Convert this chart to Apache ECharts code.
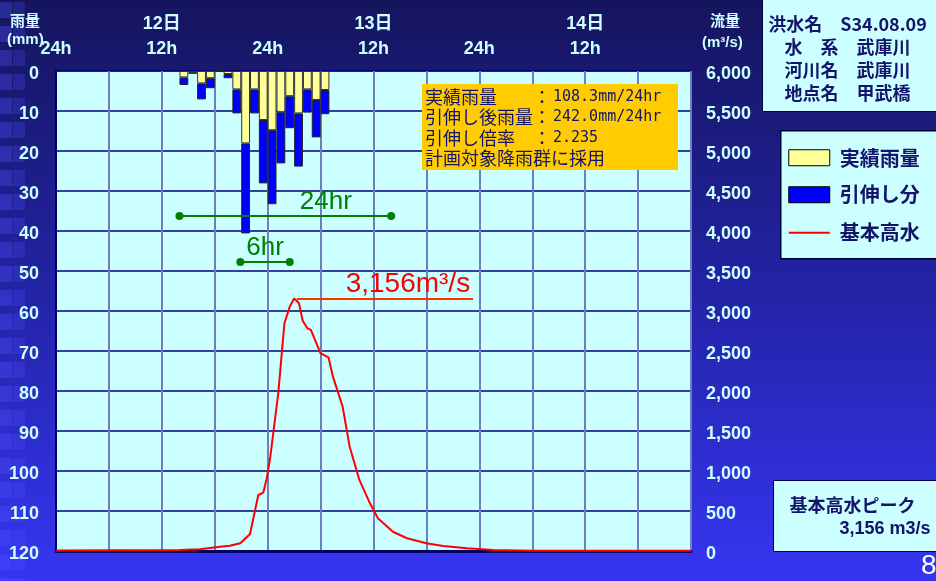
<!DOCTYPE html>
<html><head><meta charset="utf-8">
<script src="https://cdn.jsdelivr.net/npm/echarts@6/dist/echarts.min.js"></script>
<style>html,body{margin:0;padding:0;background:#1e1e88}#c{width:936px;height:581px}</style>
</head><body><div id="c"></div>
<script>
// ---- data ----
const totalHours = 72;                       // 12日 0h .. 14日 24h
const rainHours   = [14,15,16,17,18,19,20,21,22,23,24,25,26,27,28,29,30];
const rainActual  = [1.6,0.3,3.1,1.8,0,0.75,4.6,18.1,4.6,12.25,14.8,10.3,6.3,10.6,4.6,7.25,4.75];
const rainStretch = [1.9,0.4,4.0,2.5,0,1.05,6.0,22.5,6.0,15.85,18.5,12.8,8.0,13.3,5.8,9.35,6.05];
const flowHours  = [0,14.06,16.3,18.6,19.7,20.9,22.0,22.94,23.5,23.9,24.3,25.2,25.9,26.5,27.0,27.55,27.97,28.5,28.9,30.0,30.9,31.4,32.5,33.3,34.4,35.6,36.5,38.2,39.8,42.0,43.9,46.6,49.6,54.1,72];
const flowValues = [6,12,21,54,66,96,212,700,729,909,1179,1971,2846,3054,3156,3096,2879,2784,2763,2471,2421,2179,1804,1304,888,596,409,241,159,96,63,34,13,4,4];
const hourTicks  = [0,12,24,36,48,60];
const hourLabels = ['24h','12h','24h','12h','24h','12h'];
const dayTicks   = [12,36,60];
const dayLabels  = ['12日','13日','14日'];
const peakFlow = 3156;

// ---- build ----
const cats = Array.from({length: totalHours}, (_, i) => String(i));
const yellowData = cats.map(() => '-');
const blueData = cats.map(() => '-');
rainHours.forEach((h, i) => { yellowData[h] = rainActual[i]; blueData[h] = rainStretch[i]; });
const flowData = flowHours.map((h, i) => [h, flowValues[i]]);

const LC = '#ccffff';
const NAVY = '#14146a';
const FONT = '"Liberation Sans","Noto Sans CJK JP",sans-serif';
const JFONT = '"Noto Sans CJK JP","Liberation Sans",sans-serif';
const MONO = '"DejaVu Sans Mono","Liberation Mono",monospace';

const chart = echarts.init(document.getElementById('c'), null, {renderer: 'canvas'});

const leftDeco = [];
for (let y = 2; y < 581; y += 24) {
  leftDeco.push({type:'rect', shape:{x:0,y:y,width:12,height:16}, style:{fill:'rgba(80,80,255,0.35)'}, z:-5, silent:true});
  leftDeco.push({type:'rect', shape:{x:13,y:y,width:12,height:16}, style:{fill:'rgba(80,80,255,0.25)'}, z:-5, silent:true});
}
function box(left, top, children) {
  return {type:'group', left:left, top:top, z:100, children: children.map(c => Object.assign({z:100, silent:true}, c))};
}
const yLabelRich = {v: {color:LC, fontSize:18, fontWeight:'bold', fontFamily:FONT, padding:[7,0,0,0]}};

chart.setOption({
  animation: false,
  backgroundColor: {type:'linear', x:0, y:0, x2:0, y2:1, colorStops:[
    {offset:0, color:'#15155e'}, {offset:0.5, color:'#2323a6'}, {offset:1, color:'#3636f2'}]},
  textStyle: {fontFamily: FONT},
  grid: {left:56, right:245, top:71, bottom:30, show:true, backgroundColor:'#ccffff', borderColor:'#000066', borderWidth:1},
  xAxis: [
    {type:'category', data:cats, show:false, boundaryGap:true},
    {type:'value', min:0, max:totalHours, interval:6, position:'top',
      axisLine:{show:true, lineStyle:{color:'#000066', width:3}}, axisTick:{show:false},
      axisLabel:{margin:13, color:LC, fontSize:18, fontWeight:'bold', fontFamily:FONT,
        formatter: v => { const k = hourTicks.indexOf(v); return k >= 0 ? hourLabels[k] : ''; }},
      splitLine:{show:true, lineStyle:{color:'#6d7fc0', width:2}}},
    {type:'value', min:0, max:totalHours, interval:12, position:'top', offset:25,
      axisLine:{show:false}, axisTick:{show:false}, splitLine:{show:false},
      axisLabel:{margin:13, color:LC, fontSize:18, fontWeight:'bold', fontFamily:FONT,
        formatter: v => { const k = dayTicks.indexOf(v); return k >= 0 ? dayLabels[k] : ''; }}}
  ],
  yAxis: [
    {type:'value', inverse:true, min:0, max:120, interval:10,
      axisLine:{show:true, lineStyle:{color:'#000066', width:2}}, axisTick:{show:false},
      axisLabel:{margin:17, formatter: v => '{v|' + v + '}', rich: yLabelRich},
      splitLine:{show:true, lineStyle:{color:'#000080', width:1.5}}},
    {type:'value', min:0, max:6000, interval:500, position:'right',
      axisLine:{show:true, lineStyle:{color:'#000066', width:2}}, axisTick:{show:false},
      axisLabel:{margin:15, formatter: v => '{v|' + v.toLocaleString('en-US') + '}', rich: yLabelRich},
      splitLine:{show:false}}
  ],
  series: [
    {name:'実績雨量', type:'bar', xAxisIndex:0, yAxisIndex:0, stack:'rain', data:yellowData,
      barCategoryGap:'0%', itemStyle:{color:'#ffff99', borderColor:'#333', borderWidth:1}},
    {name:'引伸し分', type:'bar', xAxisIndex:0, yAxisIndex:0, stack:'rain', data:blueData,
      barCategoryGap:'0%', itemStyle:{color:'#0000ff', borderColor:'#222', borderWidth:1}},
    {name:'基本高水', type:'line', xAxisIndex:1, yAxisIndex:1, data:flowData, showSymbol:false,
      lineStyle:{color:'#ff0000', width:2}, z:5,
      markLine:{silent:true, symbol:['circle','circle'], symbolSize:8, label:{show:false},
        data:[
          [{coord:[27.3, peakFlow], symbol:'none', lineStyle:{color:'#ff3300', width:2, type:'solid'}}, {coord:[47.3, peakFlow], symbol:'none'}],
          [{coord:[14, 4187], lineStyle:{color:'#008000', width:2, type:'solid'}, itemStyle:{color:'#008000'}}, {coord:[38, 4187]}],
          [{coord:[20.9, 3612], lineStyle:{color:'#008000', width:2, type:'solid'}, itemStyle:{color:'#008000'}}, {coord:[26.5, 3612]}]
        ]},
      markPoint:{silent:true, symbol:'circle', symbolSize:0,
        data:[
          {coord:[30.6, 4362], label:{show:true, position:'inside', formatter:'24hr', color:'#008000', fontSize:26, fontFamily:FONT}},
          {coord:[23.7, 3787], label:{show:true, position:'inside', formatter:'6hr', color:'#008000', fontSize:26, fontFamily:FONT}},
          {coord:[39.9, 3337], label:{show:true, position:'inside', formatter:'3,156m³/s', color:'#ff0000', fontSize:28, fontFamily:FONT}}
        ]}}
  ],
  graphic: [
    ...leftDeco,
    {type:'text', left:10, top:13, z:10, style:{text:'雨量', fill:LC, font:'bold 15px '+JFONT}},
    {type:'text', left:7, top:32, z:10, style:{text:'(mm)', fill:LC, font:'bold 15px '+FONT}},
    {type:'text', left:710, top:13, z:10, style:{text:'流量', fill:LC, font:'bold 15px '+JFONT}},
    {type:'text', left:702, top:35, z:10, style:{text:'(m³/s)', fill:LC, font:'bold 15px '+FONT}},
    // info box
    box(422, 84, [
      {type:'rect', shape:{x:0,y:0,width:256,height:86}, style:{fill:'#ffcc00'}},
      {type:'text', x:3, y:13, style:{text:'実績雨量', fill:NAVY, font:'18px '+JFONT, verticalAlign:'middle'}},
      {type:'text', x:111, y:13, style:{text:'：', fill:NAVY, font:'18px '+JFONT, verticalAlign:'middle'}},
      {type:'text', x:131, y:13, style:{text:'108.3mm/24hr', fill:NAVY, font:'15px '+MONO, verticalAlign:'middle'}},
      {type:'text', x:3, y:33, style:{text:'引伸し後雨量', fill:NAVY, font:'18px '+JFONT, verticalAlign:'middle'}},
      {type:'text', x:111, y:33, style:{text:'：', fill:NAVY, font:'18px '+JFONT, verticalAlign:'middle'}},
      {type:'text', x:131, y:33, style:{text:'242.0mm/24hr', fill:NAVY, font:'15px '+MONO, verticalAlign:'middle'}},
      {type:'text', x:3, y:54, style:{text:'引伸し倍率', fill:NAVY, font:'18px '+JFONT, verticalAlign:'middle'}},
      {type:'text', x:111, y:54, style:{text:'：', fill:NAVY, font:'18px '+JFONT, verticalAlign:'middle'}},
      {type:'text', x:131, y:54, style:{text:'2.235', fill:NAVY, font:'15px '+MONO, verticalAlign:'middle'}},
      {type:'text', x:3, y:74, style:{text:'計画対象降雨群に採用', fill:NAVY, font:'18px '+JFONT, verticalAlign:'middle'}}
    ]),
    // title box
    box(762, -1, [
      {type:'rect', shape:{x:0,y:0,width:180,height:112}, style:{fill:'#ccffff', stroke:'#000044', lineWidth:1}},
      {type:'text', x:85, y:25, style:{text:'洪水名　S34.08.09', fill:NAVY, font:'bold 18px '+JFONT, align:'center', verticalAlign:'middle'}},
      {type:'text', x:85, y:48, style:{text:'水　系　武庫川', fill:NAVY, font:'bold 18px '+JFONT, align:'center', verticalAlign:'middle'}},
      {type:'text', x:85, y:71, style:{text:'河川名　武庫川', fill:NAVY, font:'bold 18px '+JFONT, align:'center', verticalAlign:'middle'}},
      {type:'text', x:85, y:94, style:{text:'地点名　甲武橋', fill:NAVY, font:'bold 18px '+JFONT, align:'center', verticalAlign:'middle'}}
    ]),
    // legend box
    box(780, 130, [
      {type:'rect', shape:{x:0,y:0,width:160,height:128}, style:{fill:'#ccffff', stroke:'#000033', lineWidth:1.5}},
      {type:'rect', shape:{x:8,y:19,width:41,height:16}, style:{fill:'#ffff99', stroke:'#000', lineWidth:1}},
      {type:'text', x:59, y:28, style:{text:'実績雨量', fill:NAVY, font:'bold 20px '+JFONT, verticalAlign:'middle'}},
      {type:'rect', shape:{x:8,y:56,width:41,height:16}, style:{fill:'#0000ff', stroke:'#000', lineWidth:1}},
      {type:'text', x:59, y:64, style:{text:'引伸し分', fill:NAVY, font:'bold 20px '+JFONT, verticalAlign:'middle'}},
      {type:'line', shape:{x1:8,y1:102,x2:49,y2:102}, style:{stroke:'#ff0000', lineWidth:2}},
      {type:'text', x:59, y:102, style:{text:'基本高水', fill:NAVY, font:'bold 20px '+JFONT, verticalAlign:'middle'}}
    ]),
    // peak box
    box(773, 480, [
      {type:'rect', shape:{x:0,y:0,width:170,height:71}, style:{fill:'#ccffff', stroke:'#000044', lineWidth:1}},
      {type:'text', x:16, y:25, style:{text:'基本高水ピーク', fill:NAVY, font:'bold 18px '+JFONT, verticalAlign:'middle'}},
      {type:'text', x:157, y:49, style:{text:'3,156 m3/s', fill:NAVY, font:'bold 18px '+FONT, align:'right', verticalAlign:'middle'}}
    ]),
    {type:'text', left:921, top:552, z:100, style:{text:'8', fill:'#ffffff', font:'28px '+FONT}}
  ]
});
</script></body></html>
